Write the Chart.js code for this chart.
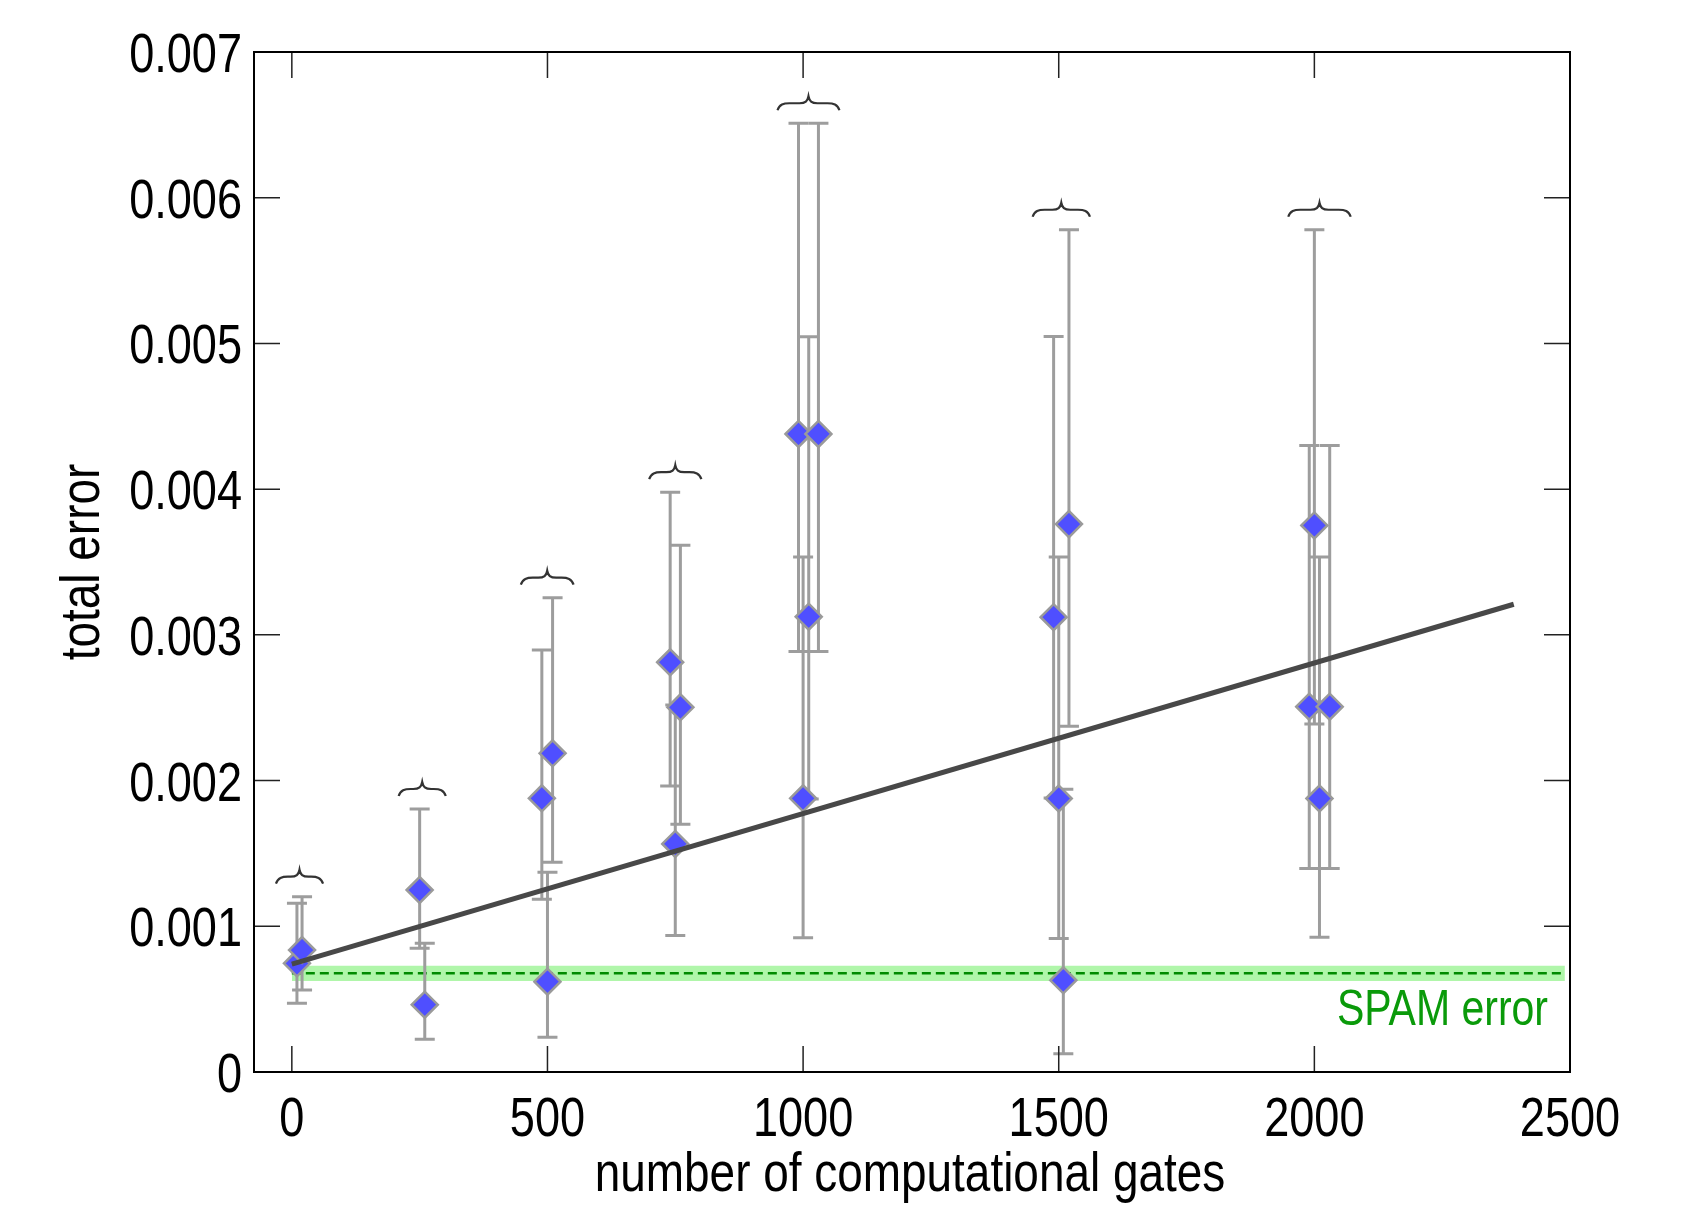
<!DOCTYPE html>
<html>
<head>
<meta charset="utf-8">
<script src="https://cdn.jsdelivr.net/npm/chart.js@4.4.1/dist/chart.umd.min.js"></script>
<style>
  html, body { margin: 0; padding: 0; background: #fff; }
</style>
</head>
<body>
<canvas id="chart" width="1688" height="1208"></canvas>
<script>
// measured points: x = number of gates, y = total error, with asymmetric error bars
const gates      = [10, 20, 250, 260, 489, 500, 510, 740, 750, 760, 991, 1000, 1011, 1030, 1490, 1500, 1509, 1520, 1990, 2000, 2010, 2030];
const totalError = [0.000746, 0.000837, 0.001249, 0.000462, 0.001878, 0.000620, 0.002187, 0.002812, 0.001565, 0.002503, 0.004379, 0.001878, 0.003125, 0.004379, 0.003121, 0.001877, 0.000629, 0.003760, 0.002507, 0.003751, 0.001877, 0.002507];
const errLow     = [0.000471, 0.000563, 0.000849, 0.000224, 0.001185, 0.000238, 0.001439, 0.001963, 0.000937, 0.001700, 0.002885, 0.000922, 0.001874, 0.002885, 0.001880, 0.000916, 0.000125, 0.002373, 0.001397, 0.002389, 0.000924, 0.001397];
const errHigh    = [0.001158, 0.001203, 0.001805, 0.000883, 0.002896, 0.001370, 0.003255, 0.003979, 0.002519, 0.003615, 0.006511, 0.003535, 0.005045, 0.006511, 0.005047, 0.003535, 0.001940, 0.005780, 0.004299, 0.005780, 0.003535, 0.004299];
const groupOf    = [0, 0, 1, 1, 2, 2, 2, 3, 3, 3, 4, 4, 4, 4, 5, 5, 5, 5, 6, 6, 6, 6];

// linear fit (end points)
const fitX = [0, 2390];
const fitY = [0.00074, 0.00321];

// SPAM error level and its band
const spamX = [0, 2490];
const spamLevel = 0.000677;
const spamHalfWidth = 0.000052;

const xTickValues = [0, 500, 1000, 1500, 2000, 2500];
const xTickLabels = ['0', '500', '1000', '1500', '2000', '2500'];
const yTickValues = [0, 0.001, 0.002, 0.003, 0.004, 0.005, 0.006, 0.007];
const yTickLabels = ['0', '0.001', '0.002', '0.003', '0.004', '0.005', '0.006', '0.007'];

const xTitle = 'number of computational gates';
const yTitle = 'total error';
const spamLabel = 'SPAM error';

const FONT = "'Liberation Sans', Arial, sans-serif";
const NARROW = 0.82; // squeeze text to look like Arial Narrow

// draw condensed text
function narrowText(ctx, text, x, y, align, rotate) {
  ctx.save();
  ctx.translate(x, y);
  if (rotate) ctx.rotate(-Math.PI / 2);
  ctx.scale(NARROW, 1);
  ctx.textAlign = align;
  ctx.textBaseline = 'alphabetic';
  ctx.fillText(text, 0, 0);
  ctx.restore();
}

// error bars, drawn just before the diamonds
const errorBars = {
  id: 'errorBars',
  beforeDatasetDraw(chart, args) {
    if (args.index !== 3) return;
    const { ctx, scales: { x, y } } = chart;
    ctx.save();
    ctx.strokeStyle = '#9d9d9d';
    ctx.lineWidth = 3;
    gates.forEach((g, i) => {
      const px = x.getPixelForValue(g);
      const top = y.getPixelForValue(errHigh[i]);
      const bot = y.getPixelForValue(errLow[i]);
      ctx.beginPath();
      ctx.moveTo(px, top); ctx.lineTo(px, bot);
      ctx.moveTo(px - 10, top); ctx.lineTo(px + 10, top);
      ctx.moveTo(px - 10, bot); ctx.lineTo(px + 10, bot);
      ctx.stroke();
    });
    ctx.restore();
  }
};

// curly braces above each group of points
const braces = {
  id: 'braces',
  afterDatasetsDraw(chart) {
    const { ctx, scales: { x, y } } = chart;
    const groups = {};
    gates.forEach((g, i) => {
      const k = groupOf[i];
      if (!groups[k]) groups[k] = { min: Infinity, max: -Infinity, top: Infinity };
      const px = x.getPixelForValue(g);
      groups[k].min = Math.min(groups[k].min, px);
      groups[k].max = Math.max(groups[k].max, px);
      groups[k].top = Math.min(groups[k].top, y.getPixelForValue(errHigh[i]));
    });
    ctx.save();
    ctx.strokeStyle = '#333';
    ctx.lineWidth = 2.2;
    Object.values(groups).forEach(gr => {
      const c = (gr.min + gr.max) / 2;
      const half = (gr.max - gr.min) / 2 + 21;
      const L = c - half, R = c + half, yb = gr.top - 13;
      ctx.beginPath();
      ctx.moveTo(L, yb);
      ctx.bezierCurveTo(L + 2, yb - 6, L + 6, yb - 7, L + 12, yb - 7);
      ctx.lineTo(c - 9, yb - 7);
      ctx.bezierCurveTo(c - 3, yb - 7, c - 1, yb - 9, c, yb - 14);
      ctx.bezierCurveTo(c + 1, yb - 9, c + 3, yb - 7, c + 9, yb - 7);
      ctx.lineTo(R - 12, yb - 7);
      ctx.bezierCurveTo(R - 6, yb - 7, R - 2, yb - 6, R, yb);
      ctx.stroke();
    });
    ctx.restore();
  }
};

// box frame, inward ticks, tick labels, titles and the SPAM label
const frame = {
  id: 'frame',
  afterDraw(chart) {
    const { ctx, chartArea: a, scales: { x, y } } = chart;
    ctx.save();
    ctx.strokeStyle = '#222';
    ctx.lineWidth = 1.5;
    ctx.beginPath();
    x.ticks.forEach(t => {
      const p = x.getPixelForValue(t.value);
      ctx.moveTo(p, a.bottom); ctx.lineTo(p, a.bottom - 26);
      ctx.moveTo(p, a.top); ctx.lineTo(p, a.top + 26);
    });
    y.ticks.forEach(t => {
      const p = y.getPixelForValue(t.value);
      ctx.moveTo(a.left, p); ctx.lineTo(a.left + 26, p);
      ctx.moveTo(a.right, p); ctx.lineTo(a.right - 26, p);
    });
    ctx.stroke();
    ctx.strokeStyle = '#000';
    ctx.lineWidth = 2;
    ctx.strokeRect(a.left, a.top, a.right - a.left, a.bottom - a.top);

    ctx.fillStyle = '#000';
    ctx.font = '55px ' + FONT;
    x.ticks.forEach((t, i) => {
      narrowText(ctx, xTickLabels[i], x.getPixelForValue(t.value), a.bottom + 64, 'center');
    });
    y.ticks.forEach((t, i) => {
      narrowText(ctx, yTickLabels[i], a.left - 12, y.getPixelForValue(t.value) + 20, 'right');
    });
    ctx.font = '56px ' + FONT;
    narrowText(ctx, xTitle, (a.left + a.right) / 2 - 2, a.bottom + 119, 'center');
    narrowText(ctx, yTitle, 99, (a.top + a.bottom) / 2, 'center', true);

    ctx.fillStyle = '#0a9a0a';
    ctx.font = '50px ' + FONT;
    narrowText(ctx, spamLabel, a.right - 22, y.getPixelForValue(spamLevel) + 52, 'right');
    ctx.restore();
  }
};

new Chart(document.getElementById('chart'), {
  data: {
    datasets: [
      {
        type: 'line', order: 5,
        data: spamX.map(v => ({ x: v, y: spamLevel - spamHalfWidth })),
        borderWidth: 0, pointRadius: 0
      },
      {
        type: 'line', order: 4,
        data: spamX.map(v => ({ x: v, y: spamLevel + spamHalfWidth })),
        borderWidth: 0, pointRadius: 0,
        fill: '-1', backgroundColor: 'rgb(176, 246, 170)'
      },
      {
        type: 'line', order: 3,
        data: spamX.map(v => ({ x: v, y: spamLevel })),
        borderColor: '#008a00', borderWidth: 2.5, borderDash: [9, 5], pointRadius: 0
      },
      {
        type: 'scatter', order: 1,
        data: gates.map((g, i) => ({ x: g, y: totalError[i] })),
        pointStyle: 'rectRot', pointRadius: 13,
        backgroundColor: '#4f4fff', borderColor: '#9a9a9a', borderWidth: 2.5
      },
      {
        type: 'line', order: 0,
        data: fitX.map((v, i) => ({ x: v, y: fitY[i] })),
        borderColor: '#484848', borderWidth: 5, pointRadius: 0
      }
    ]
  },
  options: {
    responsive: false,
    animation: false,
    layout: { padding: { left: 0, top: 52, right: 118, bottom: 0 } },
    plugins: { legend: { display: false }, tooltip: { enabled: false } },
    scales: {
      x: {
        type: 'linear', min: -74, max: 2500,
        afterBuildTicks: s => { s.ticks = xTickValues.map(v => ({ value: v })); },
        afterFit: s => { s.height = 136; },
        grid: { display: false, drawTicks: false },
        border: { display: false },
        ticks: { display: false }
      },
      y: {
        type: 'linear', min: 0, max: 0.007,
        afterBuildTicks: s => { s.ticks = yTickValues.map(v => ({ value: v })); },
        afterFit: s => { s.width = 254; },
        grid: { display: false, drawTicks: false },
        border: { display: false },
        ticks: { display: false }
      }
    }
  },
  plugins: [errorBars, braces, frame]
});
</script>
</body>
</html>
